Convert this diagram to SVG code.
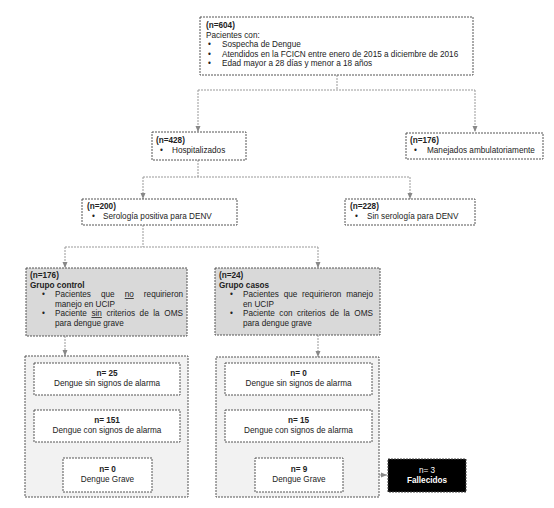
<svg xmlns="http://www.w3.org/2000/svg" width="554" height="508" viewBox="0 0 554 508">
<defs>
<style>
text{font-family:"Liberation Sans",Arial,sans-serif;font-size:8.2px;fill:#222}
.b{font-weight:bold}
.box{fill:#fff;stroke:#555;stroke-width:1;stroke-dasharray:2 1}
.grp{fill:#d9d9d9;stroke:#555;stroke-width:1;stroke-dasharray:2 1}
.out{fill:#f2f2f2;stroke:#555;stroke-width:1;stroke-dasharray:2 1}
.dark{fill:#000;stroke:#444;stroke-width:1;stroke-dasharray:2 1}
.c{fill:none;stroke:#999;stroke-width:1;stroke-dasharray:2 1}
.m{text-anchor:middle}
.w{fill:#fff}
.u{text-decoration:underline}
</style>
<marker id="ah" viewBox="0 0 6 6" refX="6" refY="3" markerWidth="6" markerHeight="6" markerUnits="userSpaceOnUse" orient="auto">
<path d="M0,0.5 L6,3 L0,5.5 Z" fill="#888"/>
</marker>
</defs>
<rect width="554" height="508" fill="#fff"/>

<g id="connectors">
<path class="c" d="M337,75 V90"/>
<path class="c" d="M198,90 H475"/>
<path class="c" d="M198,90 V132" marker-end="url(#ah)"/>
<path class="c" d="M475,90 V132" marker-end="url(#ah)"/>
<path class="c" d="M198,160 V177"/>
<path class="c" d="M143,177 H410"/>
<path class="c" d="M143,177 V199" marker-end="url(#ah)"/>
<path class="c" d="M410,177 V199" marker-end="url(#ah)"/>
<path class="c" d="M143,225 V247"/>
<path class="c" d="M65,247 H318"/>
<path class="c" d="M65,247 V268" marker-end="url(#ah)"/>
<path class="c" d="M318,247 V268" marker-end="url(#ah)"/>
<path class="c" d="M65,336 V356" marker-end="url(#ah)"/>
<path class="c" d="M318,335 V357" marker-end="url(#ah)"/>
<path class="c" d="M343,475 H387" marker-end="url(#ah)"/>
</g>

<g id="n604">
<rect class="box" x="200" y="17" width="273" height="58"/>
<text x="206" y="28" class="b">(n=604)</text>
<text x="206" y="37.5">Pacientes con:</text>
<text x="208" y="47">•</text><text x="222" y="47">Sospecha de Dengue</text>
<text x="208" y="56.5">•</text><text x="222" y="56.5">Atendidos en la FCICN entre enero de 2015 a diciembre de 2016</text>
<text x="208" y="66">•</text><text x="222" y="66">Edad mayor a 28 días y menor a 18 años</text>
</g>

<g id="n428">
<rect class="box" x="152" y="132" width="94" height="28"/>
<text x="156" y="143" class="b">(n=428)</text>
<text x="160" y="153">•</text><text x="172" y="153">Hospitalizados</text>
</g>

<g id="n176amb">
<rect class="box" x="406" y="133" width="137" height="26"/>
<text x="410" y="143" class="b">(n=176)</text>
<text x="414" y="153">•</text><text x="427" y="153">Manejados ambulatoriamente</text>
</g>

<g id="n200">
<rect class="box" x="82" y="199" width="155" height="26"/>
<text x="87" y="209" class="b">(n=200)</text>
<text x="92" y="219">•</text><text x="103" y="219">Serología positiva para DENV</text>
</g>

<g id="n228">
<rect class="box" x="345" y="199" width="130" height="26"/>
<text x="350" y="209" class="b">(n=228)</text>
<text x="355" y="219">•</text><text x="367" y="219">Sin serología para DENV</text>
</g>

<g id="control">
<rect class="grp" x="26" y="268" width="161" height="68"/>
<text x="30" y="278" class="b">(n=176)</text>
<text x="30" y="287.5" class="b">Grupo control</text>
<text x="42" y="297">•</text>
<text y="297"><tspan x="55">Pacientes</tspan><tspan x="101">que</tspan><tspan x="124.7" class="u">no</tspan></text>
<text x="183" y="297" text-anchor="end">requirieron</text>
<text x="55" y="306.5">manejo en UCIP</text>
<text x="42" y="316">•</text>
<text y="316"><tspan x="55">Paciente</tspan><tspan x="91.4" class="u">sin</tspan><tspan x="106.4">criterios</tspan><tspan x="139.6">de</tspan><tspan x="153.2">la</tspan></text>
<text x="183" y="316" text-anchor="end">OMS</text>
<text x="55" y="325.5">para dengue grave</text>
</g>

<g id="casos">
<rect class="grp" x="215" y="268" width="165" height="67"/>
<text x="219" y="278" class="b">(n=24)</text>
<text x="219" y="287.5" class="b">Grupo casos</text>
<text x="230" y="297">•</text>
<text y="297"><tspan x="243">Pacientes</tspan><tspan x="283.7">que</tspan><tspan x="302.1">requirieron</tspan></text>
<text x="373" y="297" text-anchor="end">manejo</text>
<text x="243" y="306.5">en UCIP</text>
<text x="230" y="316">•</text>
<text y="316"><tspan x="243">Paciente</tspan><tspan x="279.3">con</tspan><tspan x="296.9">criterios</tspan><tspan x="330">de</tspan><tspan x="343.5">la</tspan></text>
<text x="373" y="316" text-anchor="end">OMS</text>
<text x="243" y="325.5">para dengue grave</text>
</g>

<g id="resControl">
<rect class="out" x="25" y="356" width="163" height="141"/>
</g>
<g id="c25">
<rect class="box" x="34" y="363" width="146" height="32"/>
<text x="107" y="376" class="m b">n= 25</text>
<text x="107" y="386" class="m">Dengue sin signos de alarma</text>
</g>
<g id="c151">
<rect class="box" x="34" y="410" width="146" height="32"/>
<text x="107" y="423" class="m b">n= 151</text>
<text x="107" y="433" class="m">Dengue con signos de alarma</text>
</g>
<g id="c0">
<rect class="box" x="63" y="458" width="89" height="34"/>
<text x="107.5" y="472" class="m b">n= 0</text>
<text x="107.5" y="482" class="m">Dengue Grave</text>
</g>

<g id="resCasos">
<rect class="out" x="216" y="357" width="163" height="140"/>
</g>
<g id="k0">
<rect class="box" x="225" y="363" width="147" height="32"/>
<text x="298.5" y="376" class="m b">n= 0</text>
<text x="298.5" y="386" class="m">Dengue sin signos de alarma</text>
</g>
<g id="k15">
<rect class="box" x="225" y="410" width="147" height="32"/>
<text x="298.5" y="423" class="m b">n= 15</text>
<text x="298.5" y="433" class="m">Dengue con signos de alarma</text>
</g>
<g id="k9">
<rect class="box" x="255" y="458" width="88" height="34"/>
<text x="299" y="472" class="m b">n= 9</text>
<text x="299" y="482" class="m">Dengue Grave</text>
</g>

<g id="fallecidos">
<rect class="dark" x="388" y="459" width="78" height="33"/>
<text x="427" y="473" class="m w">n= 3</text>
<text x="427" y="483" class="m w b">Fallecidos</text>
</g>
</svg>
